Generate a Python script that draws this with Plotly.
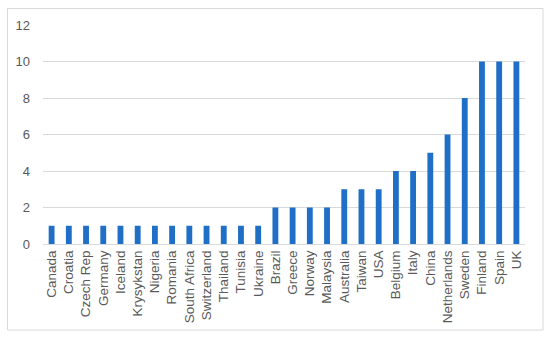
import plotly.graph_objects as go

countries = ["Canada", "Croatia", "Czech Rep", "Germany", "Iceland", "Krysykstan", "Nigeria",
             "Romania", "South Africa", "Switzerland", "Thailand", "Tunisia", "Ukraine",
             "Brazil", "Greece", "Norway", "Malaysia", "Australia", "Taiwan", "USA",
             "Belgium", "Italy", "China", "Netherlands", "Sweden", "Finland", "Spain", "UK"]
values = [1, 1, 1, 1, 1, 1, 1, 1, 1, 1, 1, 1, 1,
          2, 2, 2, 2, 3, 3, 3, 4, 4, 5, 6, 8, 10, 10, 10]
y_ticks = [0, 2, 4, 6, 8, 10, 12]

W, H = 550, 337
L, R, T, B = 43, 525, 25, 244

fig = go.Figure(go.Bar(x=countries, y=values, marker=dict(color="#1F6FC6", line=dict(width=0)),
                       width=0.34))

def px_x(p):
    return (p - L) / (R - L)

def px_y(p):
    return (B - p) / (B - T)

fig.add_shape(type="rect", xref="paper", yref="paper",
              x0=px_x(7.5), x1=px_x(543), y0=px_y(330), y1=px_y(8.5),
              line=dict(color="#d9d9d9", width=1), fillcolor="rgba(0,0,0,0)", layer="below")

fig.update_layout(
    width=W, height=H,
    margin=dict(l=L, r=W - R, t=T, b=H - B, pad=0, autoexpand=False),
    paper_bgcolor="white", plot_bgcolor="white",
    showlegend=False,
    font=dict(family="Liberation Sans, Arial, sans-serif", color="#595959", size=12),
    xaxis=dict(tickangle=-90, tickfont=dict(size=13.5, color="#595959"), showgrid=False,
               showline=True, linecolor="#d9d9d9", linewidth=1, ticks="", ticklen=0,
               automargin=False),
    yaxis=dict(range=[0, 12], tickvals=y_ticks, showgrid=True, gridcolor="#d9d9d9", gridwidth=1,
               zeroline=False, showline=False, ticks="", tickfont=dict(size=13, color="#595959"),
               ticklabelstandoff=12, automargin=False),
)

fig.write_html("out.html", config={"displayModeBar": False},
               post_script="document.body.style.margin='0px';")
